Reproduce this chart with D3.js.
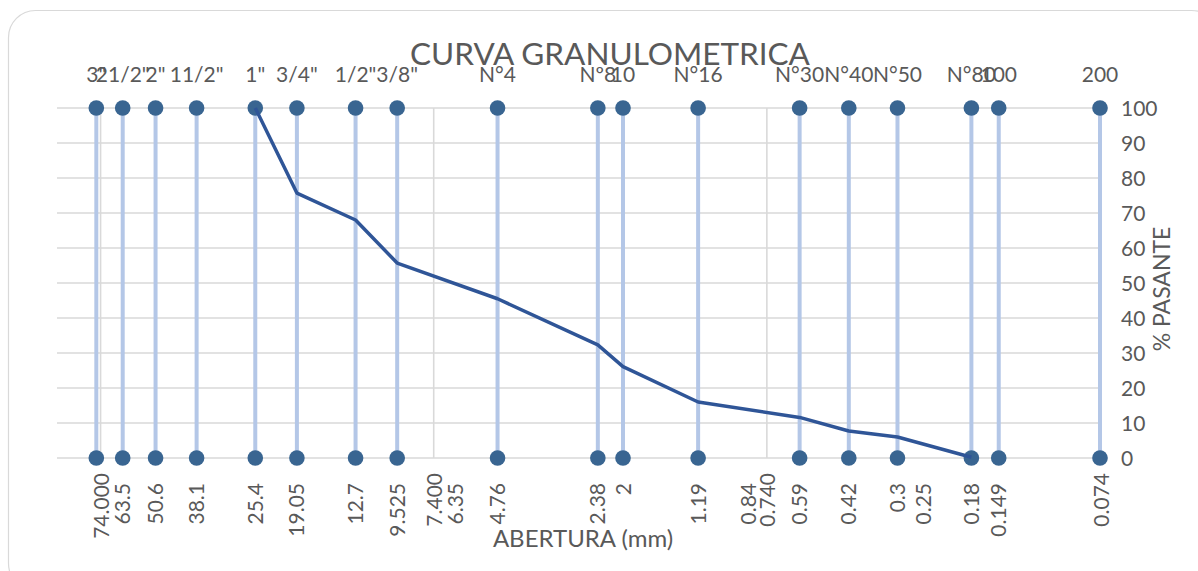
<!DOCTYPE html>
<html>
<head>
<meta charset="utf-8">
<script src="https://cdn.jsdelivr.net/npm/d3@7"></script>
<style>
  html, body { margin: 0; padding: 0; background: #fff; }
  svg text { font-family: Lato, "Open Sans", sans-serif; fill: #595959; }
</style>
</head>
<body>
<svg id="chart" width="1198" height="571"></svg>
<script>
// Sieve series: nominal name and opening (mm)
const sieveNames = ['3"', '21/2"', '2"', '11/2"', '1"', '3/4"', '1/2"', '3/8"', 'N°4', 'Nº8', '10', 'N°16', 'N°30', 'N°40', 'N°50', 'N°80', '100', '200'];
const sieveOpenings = [76.2, 63.5, 50.6, 38.1, 25.4, 19.05, 12.7, 9.525, 4.76, 2.38, 2, 1.19, 0.59, 0.42, 0.3, 0.18, 0.149, 0.074];

// Opening labels printed below the axis
const openingLabels = ["63.5", "50.6", "38.1", "25.4", "19.05", "12.7", "9.525", "6.35", "4.76", "2.38", "2", "1.19", "0.84", "0.59", "0.42", "0.3", "0.25", "0.18", "0.149"];

// Grading curve: opening (mm) and % passing
const curveOpenings = [25.4, 19.05, 12.7, 9.525, 4.76, 2.38, 2, 1.19, 0.59, 0.42, 0.3, 0.18];
const curvePassing = [100, 75.7, 68.0, 55.7, 45.5, 32.3, 26.1, 16.0, 11.6, 7.7, 6.0, 0.2];

// Axis ticks
const xTicks = [74, 7.4, 0.74, 0.074];
const yTicks = [0, 10, 20, 30, 40, 50, 60, 70, 80, 90, 100];

const svg = d3.select("#chart");

// Chart frame
svg.append("rect")
  .attr("x", 8.5).attr("y", 10.5)
  .attr("width", 1210).attr("height", 580)
  .attr("rx", 27).attr("ry", 27)
  .attr("fill", "#fff")
  .attr("stroke", "#d9d9d9").attr("stroke-width", 1.2);

// Log scale, reversed: coarse openings on the left
const x = d3.scaleLog().domain([100, 0.074]).range([57, 1100]);
const y = d3.scaleLinear().domain([0, 100]).range([458, 108]);

// Horizontal gridlines
svg.append("g").selectAll("line").data(yTicks).join("line")
  .attr("x1", 57).attr("x2", 1100)
  .attr("y1", d => y(d)).attr("y2", d => y(d))
  .attr("stroke", "#d9d9d9").attr("stroke-width", 1.6);

// Vertical major gridlines
svg.append("g").selectAll("line").data(xTicks).join("line")
  .attr("x1", d => x(d)).attr("x2", d => x(d))
  .attr("y1", y(100)).attr("y2", y(0))
  .attr("stroke", "#d9d9d9").attr("stroke-width", 1.6);

// Sieve drop lines
svg.append("g").selectAll("line").data(sieveOpenings).join("line")
  .attr("x1", d => x(d)).attr("x2", d => x(d))
  .attr("y1", y(100)).attr("y2", y(0))
  .attr("stroke", "#b4c7e7").attr("stroke-width", 4);

// Sieve markers, top and bottom
const dots = svg.append("g");
[100, 0].forEach(v => {
  dots.selectAll(null).data(sieveOpenings).join("circle")
    .attr("cx", d => x(d)).attr("cy", y(v)).attr("r", 7.8)
    .attr("fill", "#396591");
});

// Grading curve
const curve = curveOpenings.map((o, i) => [o, curvePassing[i]]);
svg.append("path")
  .datum(curve)
  .attr("fill", "none")
  .attr("stroke", "#2f5597").attr("stroke-width", 3.5)
  .attr("stroke-linejoin", "round")
  .attr("d", d3.line().x(d => x(d[0])).y(d => y(d[1])));

// Sieve names above the plot
svg.append("g").selectAll("text").data(sieveOpenings).join("text")
  .attr("x", d => x(d)).attr("y", 82)
  .attr("text-anchor", "middle")
  .attr("font-size", 21)
  .text((d, i) => sieveNames[i]);

// Opening labels below the plot (rotated)
svg.append("g").selectAll("text").data(openingLabels).join("text")
  .attr("transform", d => `translate(${x(+d)},483) rotate(-90)`)
  .attr("text-anchor", "end").attr("dy", "0.36em")
  .attr("font-size", 21)
  .text(d => d);

// Axis tick labels (rotated)
svg.append("g").selectAll("text").data(xTicks).join("text")
  .attr("transform", d => `translate(${x(d) + 1},473) rotate(-90)`)
  .attr("text-anchor", "end").attr("dy", "0.36em")
  .attr("font-size", 21)
  .text(d => d3.format(".3f")(d));

// Right axis labels
svg.append("g").selectAll("text").data(yTicks).join("text")
  .attr("x", 1121).attr("y", d => y(d)).attr("dy", "0.36em")
  .attr("font-size", 21)
  .text(d => d);

// Titles
svg.append("text")
  .attr("x", 610).attr("y", 65).attr("text-anchor", "middle")
  .attr("font-size", 31.5)
  .text("CURVA GRANULOMETRICA");

svg.append("text")
  .attr("x", 583).attr("y", 547).attr("text-anchor", "middle")
  .attr("font-size", 24)
  .text("ABERTURA (mm)");

svg.append("text")
  .attr("transform", "translate(1170,289) rotate(-90)")
  .attr("text-anchor", "middle")
  .attr("font-size", 23)
  .text("% PASANTE");
</script>
</body>
</html>
